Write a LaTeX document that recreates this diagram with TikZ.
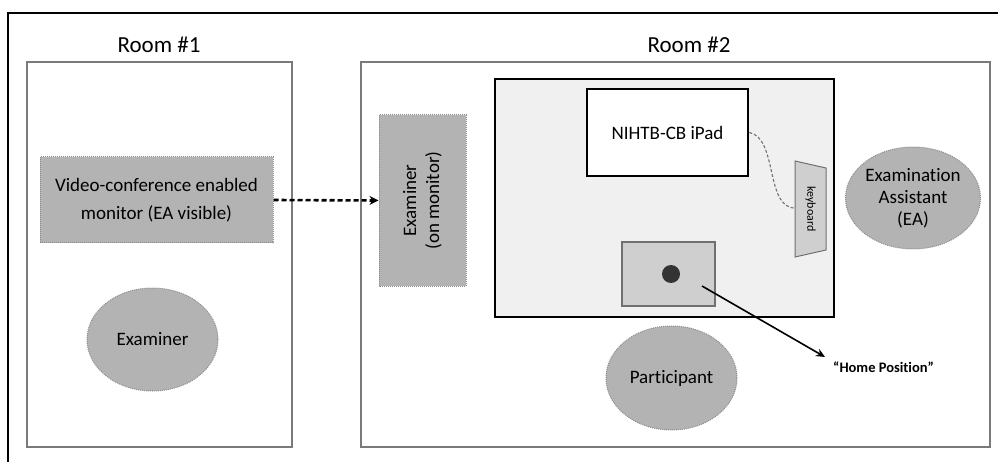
\documentclass[tikz,border=0pt]{standalone}
\usepackage{fontspec}
\setmainfont{Carlito}[Ligatures=NoCommon]
\usetikzlibrary{arrows.meta,shapes.geometric}
\definecolor{shapegray}{HTML}{B3B3B3}
\definecolor{dotgray}{HTML}{8C8C8C}
\definecolor{tablefill}{HTML}{F0F0F0}
\definecolor{homefill}{HTML}{CFCFCF}
\definecolor{roomline}{HTML}{7A7A7A}
\tikzset{
  room/.style={draw=roomline, line width=1.4pt, fill=white, minimum width=#1, inner sep=0pt},
  graybox/.style={draw=dotgray, densely dotted, line width=1pt, fill=shapegray, inner sep=0pt, align=center, font=\fontsize{19}{28}\selectfont},
  grayell/.style={ellipse, draw=dotgray, densely dotted, line width=1pt, fill=shapegray, inner sep=0pt, align=center, font=\fontsize{19}{22}\selectfont},
  title/.style={font=\fontsize{23}{26}\selectfont},
  blackbox/.style={draw=black, line width=2.6pt, inner sep=0pt},
}
\begin{document}
\begin{tikzpicture}[x=1pt,y=-1pt]
\useasboundingbox (0,0) rectangle (998,462);
% outer frame
\draw[line width=2.6pt] (8,462) -- (8,13) -- (998,13);
% titles
\node[title] (t1) at (159,45) {Room \#1};
\node[title] (t2) at (689,45) {Room \#2};
% rooms
\node[room=265pt, minimum height=385pt] (room1) at (159.5,254.5) {};
\node[room=629pt, minimum height=385pt] (room2) at (675.5,254.5) {};
% room 1 contents
\node[graybox, minimum width=233pt, minimum height=86pt] (monitor) at (156.5,200) {Video-conference enabled\\monitor (EA visible)};
\node[grayell, minimum width=131pt, minimum height=103pt] (examiner) at (152.5,339.5) {Examiner};
% room 2 contents
\node[graybox, rotate=90, minimum width=171pt, minimum height=87pt, font=\fontsize{19}{23}\selectfont] (exmon) at (422.5,200.5) {Examiner\\(on monitor)};
\node[blackbox, fill=tablefill, minimum width=339pt, minimum height=238pt] (table) at (664.5,198) {};
\node[blackbox, fill=white, minimum width=161pt, minimum height=87pt, font=\fontsize{19}{22}\selectfont] (ipad) at (667.5,132.5) {NIHTB-CB iPad};
% keyboard
\draw[draw=dotgray!80!black, line width=1pt, fill=homefill] (795,161) -- (826,168) -- (826,250) -- (795,257) -- cycle;
\node[rotate=-90, font=\fontsize{12}{14}\selectfont, inner sep=0pt] (kbtext) at (810.5,209) {keyboard};
\coordinate (kb) at (795,208);
\draw[dotgray!80!black, densely dashed, line width=1.1pt] (ipad.east) .. controls (778,138) and (765,208) .. (kb);
% home position
\node[draw=dotgray!80!black, line width=1.2pt, fill=homefill, minimum width=93pt, minimum height=64pt, inner sep=0pt] (home) at (668.5,274) {};
\node[circle, fill=black!80, minimum size=18pt, inner sep=0pt] (dot) at (671,274) {};
\node[grayell, minimum width=131pt, minimum height=104pt] (participant) at (671.5,378) {Participant};
\node[grayell, minimum width=124pt, minimum height=102pt] (ea) at (913,198) {Examination\\Assistant\\(EA)};
\node[font=\bfseries\fontsize{14.5}{16}\selectfont, anchor=west, inner sep=0pt] (hptext) at (833,367) {“Home Position”};
\coordinate (hpstart) at (702,286);
\coordinate (hpend) at (825,357);
\draw[line width=1.6pt, -{Stealth[length=9pt,width=8pt]}] (hpstart) -- (hpend);
% video link
\draw[line width=2.6pt, dashed, dash pattern=on 5pt off 3pt, -{Stealth[length=9pt,width=9pt]}] (monitor.east) -- (exmon.north);
\end{tikzpicture}
\end{document}
